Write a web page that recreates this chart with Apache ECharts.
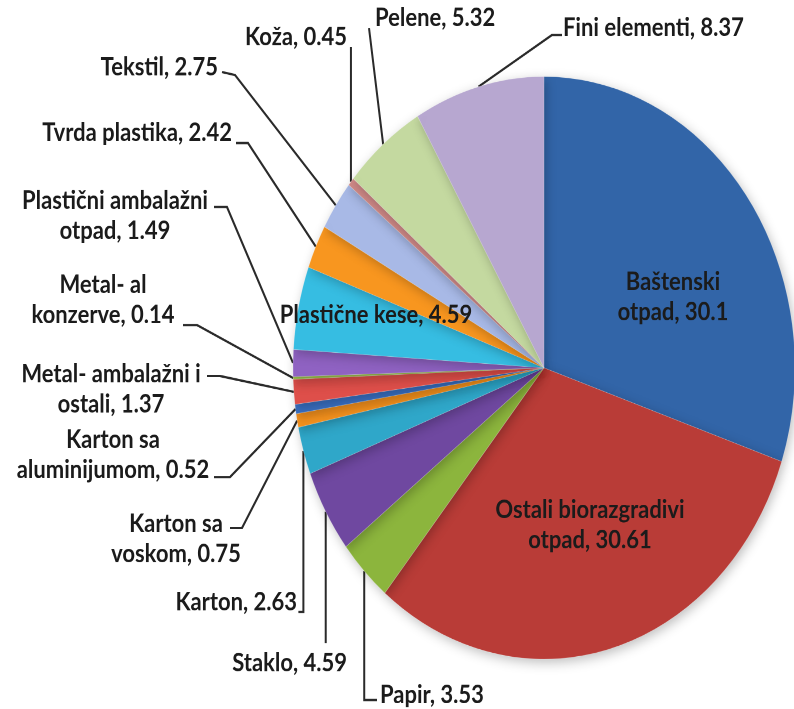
<!DOCTYPE html>
<html>
<head>
<meta charset="utf-8">
<script src="https://cdn.jsdelivr.net/npm/echarts@6/dist/echarts.min.js"></script>
<style>
  html, body { margin: 0; padding: 0; background: #fff; overflow: hidden; }
  #chart { width: 794px; height: 709px; position: relative; }
  /* the chart is drawn on a 794x611 stage and the canvas is stretched to the full window height */
  #chart canvas { width: 794px !important; height: 709px !important; }
  #chart > div { height: 709px !important; }
</style>
</head>
<body>
<div id="chart"></div>
<script>
// Waste composition (%), clockwise from 12 o'clock
const categories = [
  'Baštenski\notpad',
  'Ostali biorazgradivi\notpad',
  'Papir',
  'Staklo',
  'Karton',
  'Karton sa\nvoskom',
  'Karton sa\naluminijumom',
  'Metal- ambalažni i\nostali',
  'Metal- al\nkonzerve',
  'Plastični ambalažni\notpad',
  'Plastične kese',
  'Tvrda plastika',
  'Tekstil',
  'Koža',
  'Pelene',
  'Fini elementi'
];
const values = [30.1, 30.61, 3.53, 4.59, 2.63, 0.75, 0.52, 1.37, 0.14, 1.49, 4.59, 2.42, 2.75, 0.45, 5.32, 8.37];

const palette = [
  '#3265a8', '#b93c37', '#8cb53d', '#6f48a0', '#2fa7c9', '#f5921e',
  '#3a70c2', '#de4f4a', '#9cc24c', '#8f62c2', '#36bde2', '#f8961f',
  '#a8b9e6', '#d08a88', '#c4d9a0', '#b7a7d0'
];

// stage -> window vertical stretch
const SY = 709 / 611;

// label anchors and leader-line bends, in window pixels (x, y);
// a null x in a bend means "straight above/below the slice edge"
const placement = [
  { x: 673, y: 297, align: 'center' },
  { x: 590, y: 525, align: 'center' },
  { x: 380, y: 695, align: 'left',   bends: [[null, 700], [377, 700]] },
  { x: 347, y: 663, align: 'right',  bends: [[null, 643]] },
  { x: 297, y: 602, align: 'right',  bends: [[null, 612], ['-5', 612]] },
  { x: 176, y: 539, align: 'center', bends: [[242, 528], [230, 528]] },
  { x: 113, y: 455, align: 'center', bends: [[230, 477], [214, 477]] },
  { x: 111, y: 389, align: 'center', bends: [[220, 376], [207, 376]] },
  { x: 103, y: 300, align: 'center', bends: [[197, 325], [183, 325]] },
  { x: 115, y: 216, align: 'center', bends: [[227, 207], [214, 207]] },
  { x: 376, y: 315, align: 'center' },
  { x: 232, y: 133, align: 'right',  bends: [[248, 143], [236, 143]] },
  { x: 218, y: 67,  align: 'right',  bends: [[235, 75], [222, 72]] },
  { x: 347, y: 37,  align: 'right',  bends: [[null, 47]] },
  { x: 375, y: 18,  align: 'left',   bends: [[369, 28]] },
  { x: 563, y: 28,  align: 'left',   bends: [[552, 35], [562, 35]] }
];

const insideIdx = [0, 1, 10];

const seriesData = categories.map((name, i) => {
  const item = { name: name, value: values[i], itemStyle: { color: palette[i] } };
  if (insideIdx.indexOf(i) >= 0) {
    item.label = { position: 'inside' };
    item.labelLine = { show: false };
  }
  return item;
});

const chart = echarts.init(document.getElementById('chart'), null, {
  renderer: 'canvas', width: 794, height: 611, devicePixelRatio: 2
});

chart.setOption({
  backgroundColor: '#ffffff',
  animation: false,
  series: [{
    type: 'pie',
    center: [544, 317],
    radius: 251,
    startAngle: 90,
    clockwise: true,
    avoidLabelOverlap: false,
    minShowLabelAngle: 0,
    data: seriesData,
    itemStyle: {
      borderColor: 'rgba(255,255,255,0.25)',
      borderWidth: 0.6,
      shadowBlur: 10,
      shadowColor: 'rgba(0,0,0,0.25)',
      shadowOffsetX: 2,
      shadowOffsetY: 3
    },
    label: {
      show: true,
      position: 'outside',
      formatter: '{b}, {c}',
      color: '#1b1b1b',
      fontFamily: 'Lato',
      fontWeight: 'bold',
      fontSize: 22,
      lineHeight: 26
    },
    labelLine: {
      show: true,
      length: 10,
      length2: 10,
      lineStyle: { color: '#2a2a2a', width: 2 }
    },
    labelLayout: function (p) {
      const s = placement[p.dataIndex];
      const out = { x: s.x, y: s.y / SY, align: s.align, verticalAlign: 'middle' };
      if (s.bends && p.labelLinePoints) {
        const e = p.labelLinePoints[0];
        const pts = [[e[0], e[1]]];
        s.bends.forEach(b => {
          let bx = b[0];
          if (bx === null) bx = e[0];
          else if (typeof bx === 'string') bx = e[0] + parseFloat(bx);
          pts.push([bx, b[1] / SY]);
        });
        out.labelLinePoints = pts;
      }
      return out;
    }
  }]
});
</script>
</body>
</html>
